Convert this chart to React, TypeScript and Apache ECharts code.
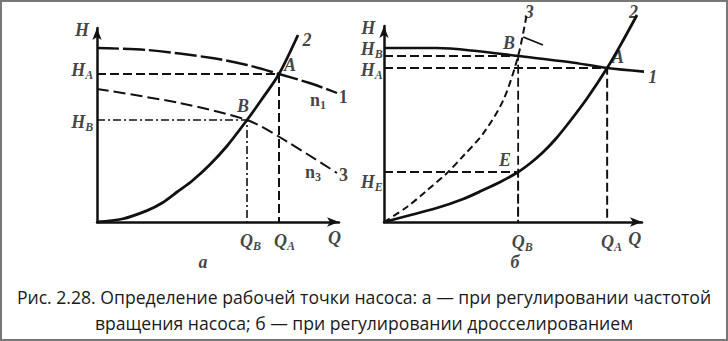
import React, { useEffect, useRef } from 'react';
import * as echarts from 'echarts';

// ---------- Chart "а" (regulation by rotation speed) ----------
const aPump1 = [[0, 87], [20, 86], [46, 82], [60, 78.5], [72.8, 74], [85, 69.5], [96, 64.5]];
const aPump3 = [[0, 66.5], [33, 59.5], [60, 51], [73, 42.5], [96, 24.5]];
const aSystem2 = [[0, 0], [10, 1.5], [20, 5.7], [26, 9.5], [32, 15], [38, 20.5], [45, 28.5], [52, 38], [60, 51], [66, 61.5], [72.8, 74], [80.4, 93.5]];
const aPointA = [72.8, 74];
const aPointB = [60, 51];

// ---------- Chart "б" (regulation by throttling) ----------
const bPump1 = [[0, 87], [20, 87], [35, 85.5], [50.8, 83], [70, 80], [84.5, 77], [100, 75]];
const bSystem2 = [[0, 0], [20, 7], [30, 11.5], [37.6, 16], [44, 20], [50.8, 25], [55.5, 29.5], [60, 34.6], [65, 41.5], [70.5, 50.5], [77, 62], [84.5, 77], [90, 89.5], [95.8, 103.5]];
const bThrottled3 = [[0, 0], [8.7, 7.5], [16, 15.5], [23.7, 24.3], [30, 33], [37.6, 44.3], [45.2, 61], [50.8, 83], [54, 103.5]];
const bPointA = [84.5, 77];
const bPointB = [50.8, 83];
const bPointE = [50.8, 25];
const bPointer = [[52.7, 92.5], [60.2, 88.5]];

const captionLines = [
  'Рис. 2.28. Определение рабочей точки насоса: а — при регулировании частотой',
  'вращения насоса; б — при регулировании дросселированием',
];

// labels: [x, y, text, align]
const aLabels: [number, number, string, string][] = [
  [-6, 96, '{m|H}', 'center'],
  [-1.5, 76, '{m|H}{s|A}', 'right'],
  [-1.5, 50, '{m|H}{s|B}', 'right'],
  [84, 91, '{m|2}', 'center'],
  [77.2, 78.5, '{m|A}', 'center'],
  [58.4, 58, '{m|B}', 'center'],
  [88.4, 61, '{n|n}{t|1}', 'center'],
  [98.5, 62.5, '{n|1}', 'center'],
  [86.4, 25, '{n|n}{t|3}', 'center'],
  [98.6, 23.5, '{n|3}', 'center'],
  [57.2, -9.5, '{m|Q}{s|B}', 'left'],
  [70.8, -9.5, '{m|Q}{s|A}', 'left'],
  [95, -8, '{m|Q}', 'center'],
  [42.4, -20, '{m|a}', 'center'],
];
const bLabels: [number, number, string, string][] = [
  [-6, 97, '{m|H}', 'center'],
  [-0.5, 86.5, '{m|H}{s|B}', 'right'],
  [-0.5, 76, '{m|H}{s|A}', 'right'],
  [-0.5, 20, '{m|H}{s|E}', 'right'],
  [55, 105, '{m|3}', 'center'],
  [47.3, 89.5, '{m|B}', 'center'],
  [94.5, 105, '{m|2}', 'center'],
  [88.6, 82.5, '{m|A}', 'center'],
  [101.8, 72.5, '{m|1}', 'center'],
  [45.8, 31, '{m|E}', 'center'],
  [48.4, -10, '{m|Q}{s|B}', 'left'],
  [82.2, -10, '{m|Q}{s|A}', 'left'],
  [95, -8.5, '{m|Q}', 'center'],
  [49.6, -20, '{m|б}', 'center'],
];

const INK = '#111';
const LF = '"Liberation Serif", "DejaVu Serif", serif';

const rich = {
  m: { fontFamily: LF, fontSize: 18, fontStyle: 'italic', fontWeight: 'bold', color: INK },
  n: { fontFamily: LF, fontSize: 18, fontStyle: 'normal', fontWeight: 'bold', color: INK },
  s: { fontFamily: LF, fontSize: 12, fontStyle: 'italic', fontWeight: 'bold', color: INK, padding: [9, 0, 0, 0] },
  t: { fontFamily: LF, fontSize: 12, fontStyle: 'normal', fontWeight: 'bold', color: INK, padding: [9, 0, 0, 0] },
};

function lineSeries(idx: number, data: number[][], width: number, type: any, smooth: number | boolean = 0.3) {
  return {
    type: 'line',
    xAxisIndex: idx,
    yAxisIndex: idx,
    data,
    smooth,
    showSymbol: false,
    clip: false,
    silent: true,
    lineStyle: { color: INK, width, type },
  };
}

function guide(idx: number, p: number[], type: any, width = 1.8) {
  return lineSeries(idx, [[0, p[1]], [p[0], p[1]], [p[0], 0]], width, type, false);
}

function labelSeries(idx: number, items: [number, number, string, string][]) {
  return {
    type: 'scatter',
    xAxisIndex: idx,
    yAxisIndex: idx,
    symbolSize: 0,
    clip: false,
    silent: true,
    data: items.map(([x, y, t, al]) => ({
      value: [x, y],
      label: {
        show: true,
        position: [0, 0],
        formatter: t,
        align: al,
        verticalAlign: 'middle',
        rich,
      },
    })),
  };
}

const axisLine = {
  show: true,
  onZero: false,
  symbol: ['none', 'arrow'],
  symbolSize: [7, 12],
  lineStyle: { color: INK, width: 2.5 },
};

function axis(min: number, max: number, idx: number) {
  return {
    type: 'value',
    gridIndex: idx,
    min,
    max,
    axisLine,
    axisTick: { show: false },
    axisLabel: { show: false },
    splitLine: { show: false },
  };
}

export default function App() {
  const ref = useRef<HTMLDivElement>(null);
  useEffect(() => {
    if (!ref.current) return;
    const chart = echarts.init(ref.current, null, { renderer: 'svg' });
    const ctx = document.createElement('canvas').getContext('2d')!;
    const capFont = '500 19px "Open Sans"';
    ctx.font = capFont;
    const w1 = ctx.measureText(captionLines[0]).width || 700;
    const sx = 695 / w1;

    chart.setOption({
      animation: false,
      backgroundColor: '#fff',
      grid: [
        { left: 97, top: 28, width: 242, height: 194 },
        { left: 384, top: 26, width: 258, height: 196 },
      ],
      xAxis: [axis(0, 96.8, 0), axis(0, 97.7, 1)],
      yAxis: [axis(0, 97, 0), axis(0, 98, 1)],
      series: [
        // chart а
        lineSeries(0, aPump1, 2.4, [22, 4]),
        lineSeries(0, aPump3, 2, [12, 5]),
        lineSeries(0, aSystem2, 2.8, 'solid'),
        guide(0, aPointA, [9, 4], 2),
        guide(0, aPointB, [8, 3, 2, 3], 1.6),
        labelSeries(0, aLabels),
        // chart б
        lineSeries(1, bPump1, 2.6, 'solid'),
        lineSeries(1, bSystem2, 2.8, 'solid'),
        lineSeries(1, bThrottled3, 2, [7, 4]),
        guide(1, bPointA, [9, 4], 2),
        guide(1, bPointB, [9, 4], 1.8),
        guide(1, bPointE, [9, 4], 1.8),
        lineSeries(1, bPointer, 1.8, 'solid', false),
        labelSeries(1, bLabels),
      ],
      graphic: [
        {
          type: 'rect',
          shape: { x: 1, y: 1, width: 726, height: 339 },
          style: { fill: 'none', stroke: '#777', lineWidth: 2 },
          silent: true,
        },
        {
          type: 'text',
          x: 364,
          y: 296,
          scaleX: sx,
          style: { text: captionLines[0], font: capFont, fill: '#1a1a1a', textAlign: 'center', textVerticalAlign: 'middle' },
        },
        {
          type: 'text',
          x: 364,
          y: 322,
          scaleX: sx,
          style: { text: captionLines[1], font: capFont, fill: '#1a1a1a', textAlign: 'center', textVerticalAlign: 'middle' },
        },
      ],
    });
    return () => chart.dispose();
  }, []);
  return (
    <div
      ref={ref}
      style={{ position: 'fixed', left: 0, top: 0, width: 728, height: 341, background: '#fff' }}
    />
  );
}
